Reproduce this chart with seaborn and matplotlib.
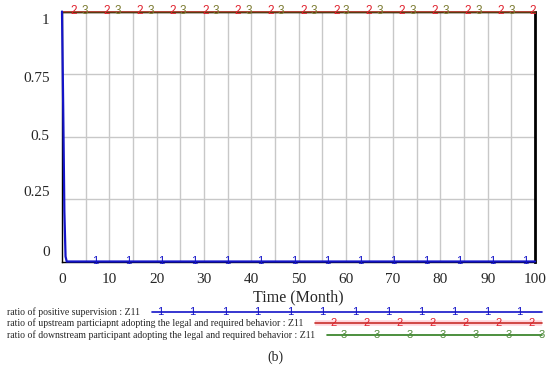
import pandas as pd
import matplotlib.pyplot as plt
import seaborn as sns

# series values (Time in months)
time_z1 = [0, 0.25, 0.5, 0.75, 1, 100]
positive_supervision = [1, 0.62, 0.2, 0.02, 0, 0]
time_z23 = [0, 100]
upstream_adopt = [1, 1]
downstream_adopt = [1, 1]

# where the numbered series markers sit on each line
marks_1 = [7, 14, 21, 28, 35, 42, 49, 56, 63, 70, 77, 84, 91, 98]
marks_2 = [2.5, 9.5, 16.4, 23.3, 30.3, 37.2, 44.1, 51.1, 58, 64.9, 71.9, 78.8, 85.7, 92.7, 99.6]
marks_3 = [4.9, 11.8, 18.7, 25.6, 32.5, 39.4, 46.3, 53.2, 60.1, 67.1, 74.1, 81.1, 88.1, 95.1]

y_ticks = [0, 0.25, 0.5, 0.75, 1]
y_tick_labels = ['0', '0.25', '0.5', '0.75', '1']
x_ticks = [0, 10, 20, 30, 40, 50, 60, 70, 80, 90, 100]

legend_names = ['ratio of positive supervision : Z11',
                'ratio of upstream particiapnt adopting the legal and required behavior : Z11',
                'ratio of downstream participant adopting the legal and required behavior : Z11']

BLUE = '#1414c8'
RED = '#c8302a'
RED_TXT = '#e0202c'
GREEN = '#2e7d1e'
GREEN_TXT = '#4f8a3a'
OLIVE = '#7a7a30'
MARK_FONT = ['Liberation Sans', 'DejaVu Sans']

sns.set_style('white')
plt.rcParams['font.family'] = ['Liberation Serif', 'DejaVu Serif']

df1 = pd.DataFrame({'Time': time_z1, 'value': positive_supervision})
df2 = pd.DataFrame({'Time': time_z23, 'value': upstream_adopt})
df3 = pd.DataFrame({'Time': time_z23, 'value': downstream_adopt})

fig = plt.figure(figsize=(5.5, 3.69), dpi=100)
ax = fig.add_axes([62 / 550, 1 - 261.5 / 369, 473 / 550, 250 / 369])

# grid
for x in range(5, 100, 5):
    ax.axvline(x, color='#c8c8c8', lw=1, zorder=0)
for y in [0.25, 0.5, 0.75]:
    ax.axhline(y, color='#c8c8c8', lw=1, zorder=0)

sns.lineplot(data=df2, x='Time', y='value', ax=ax, color=RED, lw=1.2, clip_on=False, zorder=3)
sns.lineplot(data=df3, x='Time', y='value', ax=ax, color='#5a3a10', lw=1.0, clip_on=False, zorder=4)
sns.lineplot(data=df1, x='Time', y='value', ax=ax, color=BLUE, lw=1.6, clip_on=False, zorder=5)

for t in marks_1:
    ax.text(t, 0, '1', color=BLUE, fontsize=8, family=MARK_FONT, ha='center', va='center',
            zorder=6, clip_on=False)
for t in marks_2:
    ax.text(t, 1, '2', color=RED_TXT, fontsize=8.5, family=MARK_FONT, ha='center', va='center',
            zorder=6, clip_on=False)
for t in marks_3:
    ax.text(t, 1, '3', color=OLIVE, fontsize=8.5, family=MARK_FONT, ha='center', va='center',
            zorder=6, clip_on=False)

ax.set_xlim(0, 100)
ax.set_ylim(0, 1)
ax.set_xticks(x_ticks)
ax.set_yticks(y_ticks)
ax.set_yticklabels([])
ax.tick_params(length=0, labelsize=11)
ax.tick_params(axis='x', pad=8)
ax.set_xlabel('Time (Month)', fontsize=11.5, labelpad=3)
ax.set_ylabel('')

# y labels pushed inward like the original
label_nudge = [0.038, 0.274, 0.5, 0.734, 0.966]
for lab, yv in zip(y_tick_labels, label_nudge):
    ax.text(-0.026, yv, lab, transform=ax.get_yaxis_transform(), ha='right', va='center', fontsize=11)

for side in ['left', 'bottom', 'top']:
    ax.spines[side].set_color('black')
    ax.spines[side].set_linewidth(1.0)
ax.spines['right'].set_color('black')
ax.spines['right'].set_linewidth(2.0)

# legend drawn in pixel coordinates below the chart
lg = fig.add_axes([0, 0, 1, 1], facecolor='none')
lg.set_xlim(0, 550)
lg.set_ylim(369, 0)
lg.axis('off')

rows = [(312, 152, BLUE, BLUE, '1', [160, 192, 225, 257, 290, 322, 355, 388, 421, 454, 487, 519]),
        (323, 315, RED, RED_TXT, '2', [334, 367, 400, 433, 466, 499, 532]),
        (335, 327, GREEN, GREEN_TXT, '3', [344, 377, 410, 443, 476, 509, 542])]
for (y, x0, lc, tc, num, pos), name in zip(rows, legend_names):
    lg.text(7, y, name, fontsize=7, ha='left', va='center')
    if num == '2':
        lg.plot([x0, 542], [y, y], color='#ffd6de', lw=4, solid_capstyle='butt')
    lg.plot([x0, 542], [y, y], color=lc, lw=1.2)
    for p in pos:
        lg.text(p, y, num, color=tc, fontsize=8, family=MARK_FONT, ha='center', va='center')

lg.text(275, 357, '(b)', fontsize=10, ha='center', va='center')

fig.savefig('out.png', dpi=100)
